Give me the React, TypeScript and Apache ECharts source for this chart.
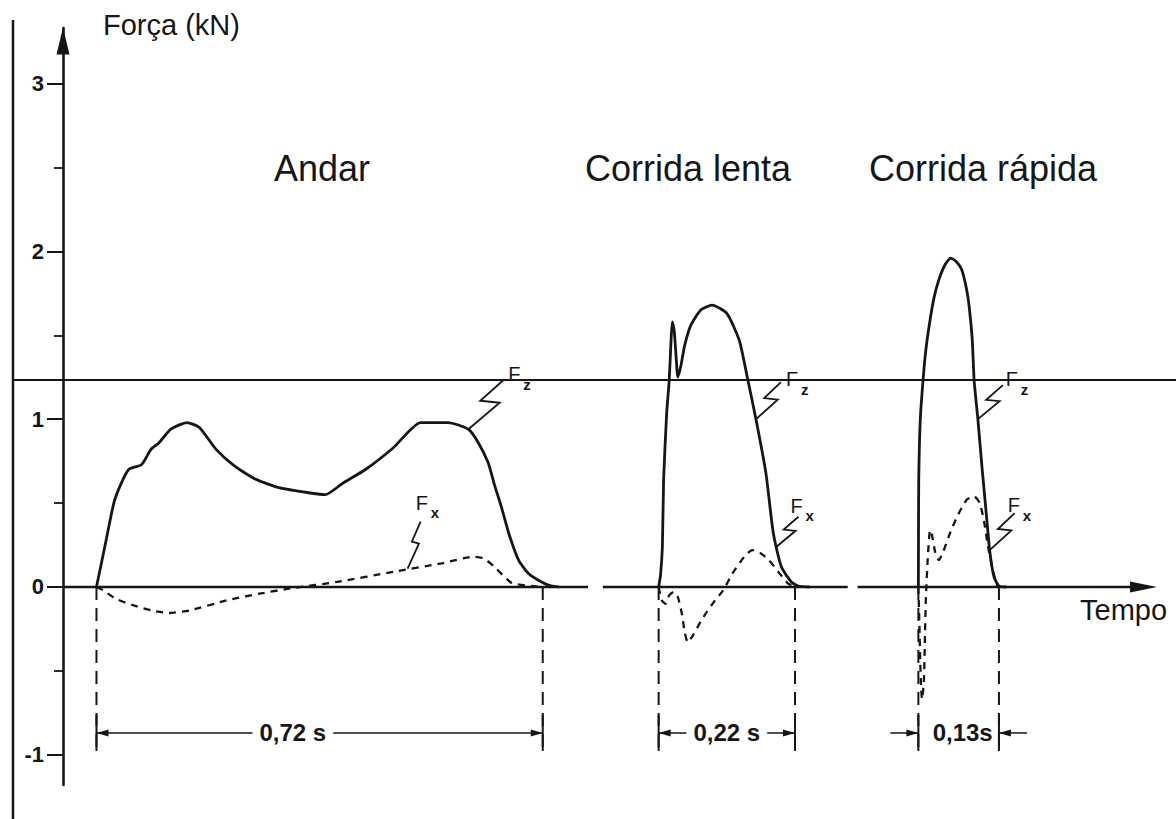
import React, { useEffect, useRef } from "react";
import * as echarts from "echarts";

const FONT = "'Liberation Sans', Arial, Helvetica, sans-serif";
const INK = "#161616";

// Stance phases on the shared time axis (seconds)
const PHASE_NAMES = ["Andar", "Corrida lenta", "Corrida rápida"];
const CONTACT_DURATIONS = [0.72, 0.22, 0.13];
const CONTACT_STARTS = [0.054, 0.961, 1.38];
const DURATION_LABELS = ["0,72 s", "0,22 s", "0,13s"];

// Ground reaction forces, [time since foot contact (s), force (kN)]
const WALK_FZ: [number, number][] = [
  [0, 0], [0.014, 0.25], [0.028, 0.5], [0.039, 0.61], [0.052, 0.7], [0.073, 0.73],
  [0.088, 0.82], [0.101, 0.86], [0.12, 0.94], [0.146, 0.98], [0.166, 0.95], [0.193, 0.82],
  [0.223, 0.72], [0.258, 0.64], [0.296, 0.59], [0.345, 0.56], [0.369, 0.55], [0.398, 0.62],
  [0.434, 0.7], [0.479, 0.83], [0.523, 0.98], [0.567, 0.98], [0.6, 0.94], [0.616, 0.86],
  [0.632, 0.74], [0.642, 0.61], [0.653, 0.48], [0.666, 0.31], [0.681, 0.16], [0.697, 0.08],
  [0.713, 0.04], [0.73, 0.01], [0.746, 0],
];
const WALK_FX: [number, number][] = [
  [0, 0], [0.011, -0.02], [0.031, -0.07], [0.06, -0.11], [0.089, -0.14], [0.117, -0.155],
  [0.15, -0.14], [0.21, -0.08], [0.263, -0.04], [0.317, -0.006], [0.388, 0.03], [0.479, 0.09],
  [0.556, 0.14], [0.609, 0.18], [0.625, 0.17], [0.642, 0.12], [0.67, 0.024], [0.702, 0.006],
  [0.72, 0],
];
const SLOW_FZ: [number, number][] = [
  [0, 0], [0.003, 0.07], [0.006, 0.24], [0.008, 0.64], [0.013, 1.04], [0.017, 1.23],
  [0.02, 1.47], [0.022, 1.58], [0.025, 1.53], [0.028, 1.38], [0.031, 1.25], [0.036, 1.32],
  [0.042, 1.44], [0.052, 1.56], [0.068, 1.65], [0.086, 1.68], [0.11, 1.63], [0.13, 1.47],
  [0.143, 1.25], [0.157, 1.0], [0.173, 0.68], [0.185, 0.32], [0.198, 0.12], [0.214, 0.03],
  [0.225, 0.006], [0.243, 0],
];
const SLOW_FX: [number, number][] = [
  [0, 0], [0.005, -0.08], [0.011, -0.1], [0.017, -0.05], [0.024, -0.03], [0.031, -0.06],
  [0.038, -0.17], [0.042, -0.27], [0.047, -0.33], [0.055, -0.29], [0.072, -0.18],
  [0.091, -0.08], [0.104, -0.02], [0.119, 0.08], [0.138, 0.18], [0.151, 0.22], [0.165, 0.2],
  [0.178, 0.16], [0.193, 0.09], [0.209, 0.02], [0.22, 0],
];
const FAST_FZ: [number, number][] = [
  [0, 0], [0.0002, 0.28], [0.0006, 0.64], [0.003, 0.99], [0.0075, 1.23], [0.012, 1.41],
  [0.018, 1.57], [0.025, 1.72], [0.033, 1.83], [0.043, 1.92], [0.052, 1.96], [0.061, 1.94],
  [0.07, 1.89], [0.078, 1.77], [0.082, 1.67], [0.087, 1.47], [0.09, 1.23], [0.096, 1.0],
  [0.103, 0.7], [0.109, 0.46], [0.115, 0.22], [0.122, 0.06], [0.13, 0.006], [0.142, 0],
];
const FAST_FX: [number, number][] = [
  [0, 0], [0.0015, -0.2], [0.003, -0.44], [0.0045, -0.61], [0.006, -0.67], [0.009, -0.55],
  [0.0105, -0.32], [0.012, -0.08], [0.015, 0.16], [0.019, 0.34], [0.022, 0.31], [0.027, 0.21],
  [0.033, 0.16], [0.04, 0.21], [0.052, 0.33], [0.064, 0.43], [0.078, 0.52], [0.09, 0.54],
  [0.099, 0.5], [0.106, 0.39], [0.112, 0.25], [0.12, 0.1], [0.127, 0.006],
];
const FZ_CURVES = [WALK_FZ, SLOW_FZ, FAST_FZ];
const FX_CURVES = [WALK_FX, SLOW_FX, FAST_FX];

// Points where the Fz / Fx call-outs touch the traces
const LEADER_PHASES = [0, 0, 1, 1, 2, 2];
const LEADER_TIMES = [0.6, 0.502, 0.157, 0.19, 0.096, 0.115];
const LEADER_FORCES = [0.94, 0.11, 1.0, 0.24, 1.0, 0.22];
const LEADER_SUBSCRIPTS = ["z", "x", "z", "x", "z", "x"];

// Axis furniture
const Y_LABEL_VALUES = [-1, 0, 1, 2, 3];
const Y_HALF_TICKS = [-0.5, 0.5, 1.5, 2.5];
const Y_MIN = -1.18;
const Y_MAX = 3.331;
const T_MIN = 0;
const T_MAX = 1.765;
const BASELINE_PIECES: [number, number][] = [[0, 0.847], [0.871, 1.266], [1.282, 1.765]];
const REFERENCE_LEVEL = 1.234;
const BOUNDARY_DEPTH = -1.0;
const DIMENSION_LEVEL = -0.87;

// Call-out layout (pixels): zigzag end relative to anchor, label relative to zigzag end
const LEADER_OFFSETS = [[36, -50], [13, -47], [25, -37], [22, -30], [25, -34], [25, -37]];
const LABEL_OFFSETS = [[4, -5], [-5, -19], [5, -3], [-8, -11], [3, -6], [-7, -8]];
const DIM_TEXT_AT = [0.44, 0.5, 0.55];
const DIM_ARROWS_OUTSIDE = [false, false, true];
const TITLE_X = [322, 688, 983];

const shift = (curve: [number, number][], t0: number) => curve.map(([t, f]) => [t0 + t, f]);

function arrowHead(tipX: number, tipY: number, dir: number, len = 12, half = 3.5) {
  return {
    type: "polygon",
    shape: { points: [[tipX, tipY], [tipX - dir * len, tipY - half], [tipX - dir * len, tipY + half]] },
    style: { fill: INK },
  };
}

export default function App() {
  const ref = useRef<HTMLDivElement>(null);

  useEffect(() => {
    if (!ref.current) return;
    const chart = echarts.init(ref.current, undefined, { renderer: "svg" });

    const curveSeries: any[] = [];
    PHASE_NAMES.forEach((name, i) => {
      curveSeries.push({
        name: `${name} Fz`,
        type: "line",
        data: shift(FZ_CURVES[i], CONTACT_STARTS[i]),
        showSymbol: false,
        smooth: 0.2,
        lineStyle: { color: INK, width: 2.8 },
        z: 4,
      });
      curveSeries.push({
        name: `${name} Fx`,
        type: "line",
        data: shift(FX_CURVES[i], CONTACT_STARTS[i]),
        showSymbol: false,
        smooth: 0.2,
        lineStyle: { color: INK, width: 2.3, type: [7, 6] },
        z: 4,
      });
    });

    // Time axis drawn in pieces, arrow on the last one
    const baselineSeries = {
      type: "custom",
      data: BASELINE_PIECES,
      z: 3,
      renderItem: (params: any, api: any) => {
        const a = api.coord([api.value(0), 0]);
        const b = api.coord([api.value(1), 0]);
        const last = params.dataIndex === BASELINE_PIECES.length - 1;
        const children: any[] = [
          {
            type: "line",
            shape: { x1: a[0], y1: a[1], x2: last ? b[0] - 20 : b[0], y2: b[1] },
            style: { stroke: INK, lineWidth: 2.6 },
          },
        ];
        if (last) children.push(arrowHead(b[0], b[1], 1, 27, 5.5));
        return { type: "group", children };
      },
    };

    // Long horizontal rule across the figure
    const referenceSeries = {
      type: "custom",
      data: [[T_MIN, REFERENCE_LEVEL]],
      z: 2,
      renderItem: (_params: any, api: any) => {
        const p = api.coord([api.value(0), api.value(1)]);
        return {
          type: "line",
          shape: { x1: 13, y1: p[1], x2: api.getWidth(), y2: p[1] },
          style: { stroke: INK, lineWidth: 2 },
        };
      },
    };

    // Contact-time brackets under each trace
    const durationSeries = {
      type: "custom",
      data: CONTACT_STARTS.map((s, i) => [s, s + CONTACT_DURATIONS[i]]),
      z: 3,
      renderItem: (params: any, api: any) => {
        const i = params.dataIndex;
        const a = api.coord([api.value(0), 0]);
        const b = api.coord([api.value(1), 0]);
        const yb = api.coord([api.value(0), BOUNDARY_DEPTH])[1];
        const yd = api.coord([api.value(0), DIMENSION_LEVEL])[1];
        const dash = { stroke: INK, lineWidth: 2, lineDash: [13, 8] };
        const thin = { stroke: INK, lineWidth: 1.5 };
        const children: any[] = [
          { type: "line", shape: { x1: a[0], y1: a[1], x2: a[0], y2: yb }, style: dash },
          { type: "line", shape: { x1: b[0], y1: b[1], x2: b[0], y2: yb }, style: dash },
          { type: "line", shape: { x1: a[0], y1: yd - 18, x2: a[0], y2: yd + 18 }, style: { stroke: INK, lineWidth: 2 } },
          { type: "line", shape: { x1: b[0], y1: yd - 18, x2: b[0], y2: yd + 18 }, style: { stroke: INK, lineWidth: 2 } },
        ];
        if (DIM_ARROWS_OUTSIDE[i]) {
          children.push({ type: "line", shape: { x1: a[0] - 28, y1: yd, x2: a[0], y2: yd }, style: thin });
          children.push({ type: "line", shape: { x1: b[0], y1: yd, x2: b[0] + 28, y2: yd }, style: thin });
          children.push(arrowHead(a[0], yd, 1));
          children.push(arrowHead(b[0], yd, -1));
        } else {
          children.push({ type: "line", shape: { x1: a[0], y1: yd, x2: b[0], y2: yd }, style: thin });
          children.push(arrowHead(a[0], yd, -1));
          children.push(arrowHead(b[0], yd, 1));
        }
        children.push({
          type: "text",
          x: a[0] + DIM_TEXT_AT[i] * (b[0] - a[0]),
          y: yd,
          style: {
            text: DURATION_LABELS[i],
            fill: INK,
            fontFamily: FONT,
            fontWeight: "bold",
            fontSize: 24,
            align: "center",
            verticalAlign: "middle",
            textAlign: "center",
            textVerticalAlign: "middle",
            backgroundColor: "#fff",
            padding: DIM_ARROWS_OUTSIDE[i] ? [2, 4] : [2, 7],
          },
        });
        return { type: "group", children };
      },
    };

    // Zigzag call-outs naming the force components
    const leaderSeries = {
      type: "custom",
      data: LEADER_TIMES.map((t, i) => [CONTACT_STARTS[LEADER_PHASES[i]] + t, LEADER_FORCES[i]]),
      z: 5,
      renderItem: (params: any, api: any) => {
        const i = params.dataIndex;
        const p = api.coord([api.value(0), api.value(1)]);
        const [dx, dy] = LEADER_OFFSETS[i];
        const [lx, ly] = LABEL_OFFSETS[i];
        const pts = [
          [p[0], p[1]],
          [p[0] + 0.87 * dx, p[1] + 0.53 * dy],
          [p[0] + 0.33 * dx, p[1] + 0.57 * dy],
          [p[0] + dx, p[1] + dy],
        ];
        const fx = p[0] + dx + lx;
        const fy = p[1] + dy + ly;
        return {
          type: "group",
          children: [
            { type: "polyline", shape: { points: pts }, style: { stroke: INK, lineWidth: 1.8, fill: "none" } },
            {
              type: "text",
              x: fx,
              y: fy,
              style: {
                text: "F", fill: INK, fontFamily: FONT, fontSize: 20,
                align: "left", verticalAlign: "middle", textAlign: "left", textVerticalAlign: "middle",
              },
            },
            {
              type: "text",
              x: fx + 15,
              y: fy + 10,
              style: {
                text: LEADER_SUBSCRIPTS[i], fill: INK, fontFamily: FONT, fontSize: 15, fontWeight: "bold",
                align: "left", verticalAlign: "middle", textAlign: "left", textVerticalAlign: "middle",
              },
            },
          ],
        };
      },
    };

    const textStyle = (extra: any) => ({
      fill: INK,
      fontFamily: FONT,
      align: "left",
      verticalAlign: "middle",
      textAlign: "left",
      textVerticalAlign: "middle",
      ...extra,
    });

    chart.setOption({
      animation: false,
      backgroundColor: "#ffffff",
      grid: { left: 63, right: 19, top: 28, bottom: 34, containLabel: false },
      xAxis: { type: "value", min: T_MIN, max: T_MAX, show: false },
      yAxis: [
        {
          type: "value",
          min: Y_MIN,
          max: Y_MAX,
          axisLine: {
            show: true,
            onZero: false,
            symbol: ["none", "triangle"],
            symbolSize: [13, 27],
            symbolOffset: [0, -13],
            lineStyle: { color: INK, width: 2.6 },
          },
          axisTick: { show: true, customValues: Y_LABEL_VALUES, length: 16, lineStyle: { color: INK, width: 2 } },
          axisLabel: {
            customValues: Y_LABEL_VALUES,
            margin: 19,
            color: INK,
            fontFamily: FONT,
            fontWeight: "bold",
            fontSize: 22,
          },
          splitLine: { show: false },
        },
        {
          type: "value",
          min: Y_MIN,
          max: Y_MAX,
          position: "left",
          axisLine: { show: false, onZero: false },
          axisTick: { show: true, customValues: Y_HALF_TICKS, length: 9, lineStyle: { color: INK, width: 1.8 } },
          axisLabel: { show: false },
          splitLine: { show: false },
        },
      ],
      graphic: [
        { type: "line", shape: { x1: 13, y1: 20, x2: 13, y2: 819 }, style: { stroke: INK, lineWidth: 2.5 } },
        { type: "text", x: 103, y: 25, style: textStyle({ text: "Força (kN)", fontSize: 29 }) },
        { type: "text", x: 1080, y: 610, style: textStyle({ text: "Tempo", fontSize: 29 }) },
        ...PHASE_NAMES.map((name, i) => ({
          type: "text",
          x: TITLE_X[i],
          y: 168,
          style: textStyle({ text: name, fontSize: 36, align: "center", textAlign: "center" }),
        })),
      ],
      series: [referenceSeries, baselineSeries, durationSeries, ...curveSeries, leaderSeries],
    });

    return () => chart.dispose();
  }, []);

  return (
    <div
      ref={ref}
      style={{ position: "fixed", left: 0, top: 0, width: 1176, height: 819, background: "#fff" }}
    />
  );
}
